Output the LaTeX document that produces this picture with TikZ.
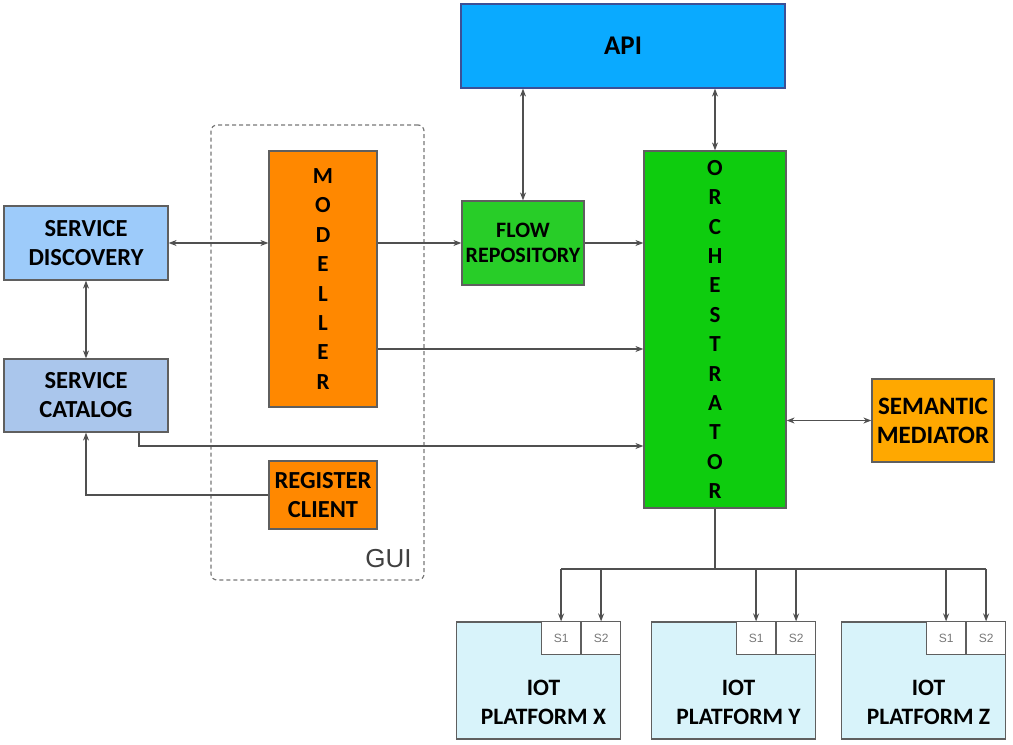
\documentclass[tikz,border=0pt]{standalone}
\usepackage{fontspec}
\setmainfont{Carlito}
\newfontfamily\guifont{Liberation Sans}
\usetikzlibrary{arrows.meta,positioning}

\definecolor{apiblue}{RGB}{10,170,255}
\definecolor{apiline}{RGB}{60,80,150}
\definecolor{orchgreen}{RGB}{14,204,14}
\definecolor{flowgreen}{RGB}{40,205,40}
\definecolor{modorange}{RGB}{255,136,0}
\definecolor{semorange}{RGB}{255,168,0}
\definecolor{discblue}{RGB}{157,203,250}
\definecolor{catblue}{RGB}{170,198,236}
\definecolor{iotcyan}{RGB}{216,243,250}
\definecolor{boxline}{RGB}{95,95,95}
\definecolor{linegray}{RGB}{80,80,80}
\definecolor{guigray}{RGB}{120,120,120}

\begin{document}
\begin{tikzpicture}[
    x = 1pt, y = -1pt, % pixel grid, y runs down
    > = {Stealth[length=8pt,width=6pt]}, % arrow head style
    line width = 1.2pt,
    font = \bfseries\fontsize{24.5}{29}\selectfont
    ]

    \tikzset{box/.style={
    draw = boxline,
    align = center,
    inner sep = 1pt
    }}
    \tikzset{link/.style={draw = linegray, line width = 1.3pt}}
    \tikzset{stack/.style={font = \bfseries\fontsize{23}{29.4}\selectfont}}
    \tikzset{iot/.style={box, fill = iotcyan, minimum width = 164pt, minimum height = 117pt}}
    \tikzset{sbox/.style={draw = boxline, fill = white, line width = 1pt, text = guigray,
    font = \guifont\fontsize{12}{13}\selectfont, minimum width = 39pt, minimum height = 33pt, inner sep = 0pt}}

    \useasboundingbox (0,0) rectangle (1013,745);

    % GUI frame
    \node[draw = guigray, dashed, dash pattern = on 4pt off 3pt, rounded corners = 6pt,
    minimum width = 213pt, minimum height = 455pt] (gui) at (317.5,352.5) {};
    \node[anchor = base east, text = black!75, font = \guifont\fontsize{26}{26}\selectfont]
    (guitext) at ([xshift=-9pt,yshift=13pt]gui.south east) {GUI};

    \node[box, draw = apiline, fill = apiblue, minimum width = 324pt, minimum height = 84pt,
    font = \bfseries\fontsize{27}{29}\selectfont] (api) at (623,46) {API};
    \node[box, fill = flowgreen, minimum width = 122pt, minimum height = 84pt,
    font = \bfseries\fontsize{22}{25}\selectfont] (flow) at (523,243) {FLOW\\REPOSITORY};
    \node[box, stack, fill = orchgreen, minimum width = 142pt, minimum height = 357pt] (orch) at (715,329.5)
    {O\\R\\C\\H\\E\\S\\T\\R\\A\\T\\O\\R};
    \node[box, stack, fill = modorange, minimum width = 108pt, minimum height = 256pt] (modeller) at (323,279)
    {M\\O\\D\\E\\L\\L\\E\\R};
    \node[box, fill = discblue, minimum width = 164pt, minimum height = 74pt] (disc) at (86,243) {SERVICE\\DISCOVERY};
    \node[box, fill = catblue, minimum width = 164pt, minimum height = 73pt] (cat) at (86,395.5) {SERVICE\\CATALOG};
    \node[box, fill = modorange, minimum width = 108pt, minimum height = 68pt] (reg) at (323,495) {REGISTER\\CLIENT};
    \node[box, fill = semorange, minimum width = 122pt, minimum height = 83pt,
    font = \bfseries\fontsize{25}{29}\selectfont] (sem) at (933,420.5) {SEMANTIC\\MEDIATOR};

    \foreach \p/\cx/\t in {x/538.5/X, y/733.5/Y, z/923.5/Z} {
    \node[iot] (pl\p) at (\cx,680.5) {};
    \node[sbox, anchor = north east] (s2\p) at (pl\p.north east) {S2};
    \node[sbox, anchor = north east] (s1\p) at (s2\p.north west) {S1};
    \node[align = center, font = \bfseries\fontsize{23.5}{29.5}\selectfont] (lab\p)
    at ([xshift=5pt,yshift=-22pt]pl\p.center) {IOT\\PLATFORM \t};
    }

    % connectors
    \draw[link, <->] (flow.north |- api.south) -- (flow.north);
    \draw[link, <->] (orch.north |- api.south) -- (orch.north);
    \draw[link, <->] (disc.east) -- (modeller.west |- disc.east);
    \draw[link, <->] (disc.south) -- (cat.north);
    \draw[link, ->] (modeller.east |- flow.west) -- (flow.west);
    \draw[link, ->] (flow.east) -- (orch.west |- flow.east);
    \coordinate (mo) at ([yshift=-70pt]modeller.east);
    \draw[link, ->] (mo) -- (mo -| orch.west);
    \draw[link, ->] ([xshift=53pt]cat.south) |- (orch.west |- 0,446);
    \draw[link, ->] (reg.west) -| (cat.south);
    \draw[link, <->] (orch.east |- sem.west) -- (sem.west);

    % bus to the platforms
    \draw[link] (orch.south) -- (orch.south |- 0,569) coordinate (bus);
    \draw[link] (bus -| s1x.north) -- (bus -| s2z.north);
    \foreach \p in {x,y,z}
    \foreach \s in {1,2}
    \draw[link, ->] (bus -| s\s\p.north) -- (s\s\p.north);
\end{tikzpicture}
\end{document}
